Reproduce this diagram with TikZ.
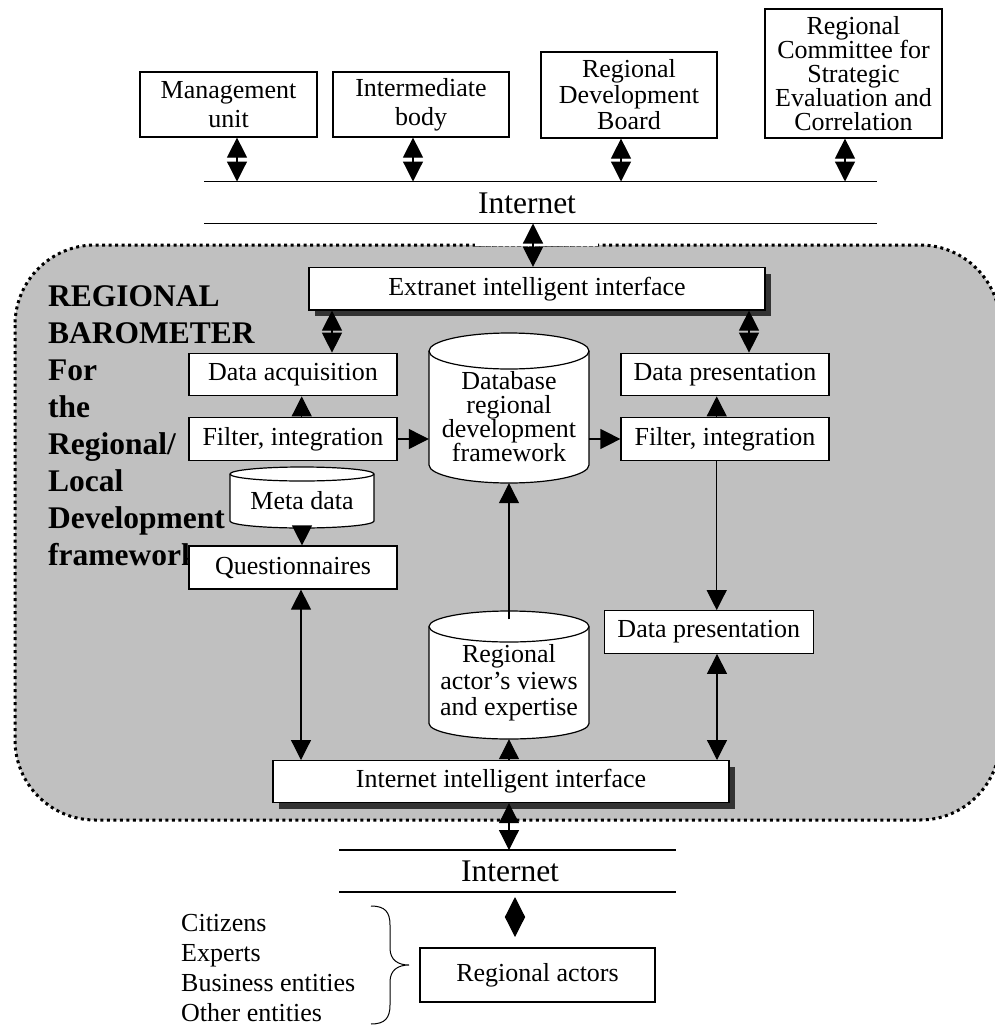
\documentclass[tikz,border=0pt]{standalone}
\usepackage{fontspec}
\setmainfont{Liberation Serif}
\usetikzlibrary{arrows.meta,shadows}

\definecolor{panel}{RGB}{192,192,192}
\definecolor{shade}{RGB}{51,51,51}

\tikzset{
  box/.style={draw, fill=white, line width=1.2pt, inner sep=0pt, align=center},
  sbox/.style={box, drop shadow={shadow xshift=6pt, shadow yshift=-6pt, opacity=1, fill=shade}},
  tank/.style={inner sep=0pt, align=center},
  arr/.style={line width=1.2pt, ->},
  dia/.style={line width=1.2pt, <->},
  rule/.style={line width=1.5pt},
  title/.style={anchor=base west, inner sep=0pt, font=\fontsize{31.5}{37}\selectfont\bfseries},
  big/.style={inner sep=0pt, font=\fontsize{31.5}{32}\selectfont},
}

% cylinder: left x, top y, width, height, ellipse radius
\newcommand{\drum}[5]{%
  \filldraw[fill=white, line width=1.2pt]
    (#1,{#2-#5}) -- (#1,{#2-#4+#5})
    arc[start angle=180, end angle=360, x radius={#3/2}, y radius=#5]
    -- ({#1+#3},{#2-#5})
    arc[start angle=0, end angle=180, x radius={#3/2}, y radius=#5] -- cycle;
  \draw[line width=1.2pt] (#1,{#2-#5})
    arc[start angle=180, end angle=360, x radius={#3/2}, y radius=#5];
}

\begin{document}
\begin{tikzpicture}[x=1pt, y=1pt, font=\fontsize{26}{26}\selectfont,
    >={Triangle[width=20pt,length=20pt]}]
  \useasboundingbox (0,0) rectangle (995,-1026);

  % barometer panel
  \draw[fill=panel, line width=3pt, dash pattern=on 3pt off 3.5pt,
    rounded corners=80pt] (15,-245) rectangle (1000,-820);
  \fill[white] (475,-240) rectangle (598,-246);
  \draw[line width=0.6pt, dash pattern=on 4pt off 2pt, black!60] (475,-246.5) -- (598,-246.5);

  \foreach \w [count=\i] in {REGIONAL,BAROMETER,For,the,Regional/,Local,Development,framework}
    \node[title] (ttl\i) at (48,{-306.7-36.9*(\i-1)}) {\w};

  % upper level
  \node[box, minimum width=177pt, minimum height=65pt, font=\fontsize{26}{29}\selectfont]
    (mu) at (228.5,-104.5) {Management\\unit};
  \node[box, minimum width=176pt, minimum height=65pt, font=\fontsize{26}{29}\selectfont]
    (ib) at (421,-104.5) {Intermediate\\body};
  \node[box, minimum width=176pt, minimum height=86pt]
    (rdb) at (629,-95) {Regional\\Development\\Board};
  \node[box, minimum width=177pt, minimum height=129pt, font=\fontsize{26}{24}\selectfont]
    (rc) at (853.5,-73.5) {Regional\\Committee for\\Strategic\\Evaluation and\\Correlation};

  \draw[rule] (204,-181.5) coordinate (up1) -- (877,-181.5);
  \draw[rule] (204,-223.5) coordinate (up2) -- (877,-223.5);
  \node[big] (inet1) at (527,-203) {Internet};

  \foreach \b/\x in {mu/237, ib/413, rdb/621, rc/845}
    \draw[dia] (\b.south -| \x,0) -- (\x,-181.5);

  % inside the barometer
  \node[sbox, minimum width=456pt, minimum height=42.5pt] (ext) at (537,-288.75)
    {Extranet intelligent interface};
  \node[box, minimum width=208pt, minimum height=42.5pt] (acq) at (293,-374.5) {Data acquisition};
  \node[box, minimum width=208pt, minimum height=42.5pt] (filt1) at (293,-439) {Filter, integration};
  \node[box, minimum width=208pt, minimum height=43pt] (quest) at (293,-567.5) {Questionnaires};
  \node[box, minimum width=208pt, minimum height=42.5pt] (pres1) at (725,-374.5) {Data presentation};
  \node[box, minimum width=208pt, minimum height=42.5pt] (filt2) at (725,-439) {Filter, integration};
  \node[box, minimum width=209pt, minimum height=42.6pt] (pres2) at (708.8,-632) {Data presentation};

  \drum{429}{-333}{160}{150}{18}
  \node[tank, minimum width=160pt, minimum height=132pt, font=\fontsize{26}{24}\selectfont]
    (db) at (509,-417) {Database\\regional\\development\\framework};
  \drum{230}{-467}{144}{61}{7}
  \node[tank, minimum width=144pt, minimum height=54pt] (meta) at (302,-501) {Meta data};
  \drum{429}{-611}{160}{128}{15.5}
  \node[tank, minimum width=160pt, minimum height=112.5pt, font=\fontsize{26}{26.5}\selectfont]
    (reg) at (509,-682.75) {Regional\\actor’s views\\and expertise};

  \node[sbox, minimum width=456pt, minimum height=42pt] (iface) at (501,-781.6)
    {Internet intelligent interface};

  \draw[dia] (533,-223.5) -- (ext.north -| 533,0);
  \draw[dia] (ext.south -| 332,0) -- (acq.north -| 332,0);
  \draw[dia] (ext.south -| 749,0) -- (pres1.north -| 749,0);
  \draw[arr] (filt1.north -| 301.7,0) -- (acq.south -| 301.7,0);
  \draw[arr] (filt2.north -| 716.7,0) -- (pres1.south -| 716.7,0);
  \draw[arr] (filt1.east) -- (filt1.east -| db.west);
  \draw[arr] (db.east |- filt2.west) -- (filt2.west);
  \draw[arr] (meta.south) -- (meta.south |- quest.north);
  \draw[arr] (filt2.south -| 716.7,0) -- (pres2.north -| 716.7,0);
  \draw[dia] (quest.south -| 301,0) -- (iface.north -| 301,0);
  \draw[dia] (pres2.south -| 717,0) -- (iface.north -| 717,0);
  \draw[arr] (iface.north -| reg.south) -- (reg.south);
  \draw[arr] ([yshift=7pt]reg.north) -- (db.south);

  % lower level
  \draw[rule] (339,-850) coordinate (lo1) -- (676,-850);
  \draw[rule] (339,-892) coordinate (lo2) -- (676,-892);
  \node[big] (inet2) at (510,-871) {Internet};
  \draw[dia] (iface.south -| 509,0) -- (509,-850);

  \node[box, minimum width=235pt, minimum height=54pt] (actors) at (537.5,-975) {Regional actors};
  \coordinate (gapA) at (515,-897);
  \coordinate (gapB) at (515,-937);
  \draw[dia] (gapA) -- (gapB);

  \foreach \w [count=\i] in {Citizens,Experts,Business entities,Other entities}
    \node[anchor=base west, inner sep=0pt] (who\i) at (181,{-901.7-30*\i}) {\w};
  \draw[line width=1pt] (371,-906) .. controls (385,-906) and (390,-912) .. (390,-925)
    -- (390,-948) .. controls (390,-960) and (398,-965) .. (409,-965)
    .. controls (398,-965) and (390,-970) .. (390,-982)
    -- (390,-1005) .. controls (390,-1018) and (385,-1024) .. (371,-1024);
\end{tikzpicture}
\end{document}
